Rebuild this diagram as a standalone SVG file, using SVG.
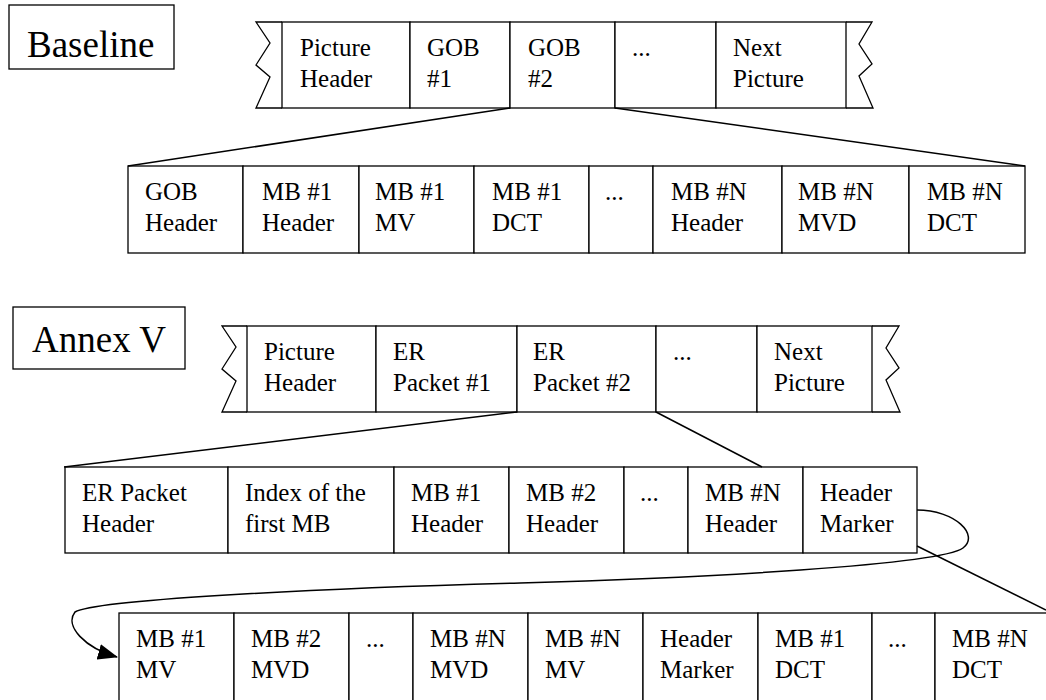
<svg xmlns="http://www.w3.org/2000/svg" width="1046" height="700" viewBox="0 0 1046 700">
<style>
.c{fill:#fff;stroke:#000;stroke-width:1.3}
.z{fill:none;stroke:#000;stroke-width:1.3;stroke-linejoin:miter}
.t{font-family:"Liberation Serif","Times New Roman",serif;font-size:25px;fill:#000}
.big{font-family:"Liberation Serif","Times New Roman",serif;font-size:37px;fill:#000}
.l{fill:none;stroke:#000;stroke-width:1.5}
</style>
<defs>
<marker id="ah" markerWidth="20" markerHeight="16" refX="19" refY="8" orient="auto" markerUnits="userSpaceOnUse">
<path d="M0,0 L20,8 L0,16 Z" fill="#000"/>
</marker>
</defs>
<rect width="1046" height="700" fill="#fff"/>

<g id="label-baseline"><rect class="c" x="9" y="5" width="165" height="64"/><text class="big" x="27" y="57">Baseline</text></g>
<g id="label-annex"><rect class="c" x="13" y="307" width="172" height="62"/><text class="big" x="32" y="352">Annex V</text></g>

<!-- Row 1 -->
<g id="r1-left-end"><path class="z" d="M282,22 L256,22 L270,43 L256,65 L270,77 L256,108 L282,108"/></g>
<g id="r1-picture-header"><rect class="c" x="282" y="22" width="128" height="86"/><text class="t" x="300" y="56">Picture</text><text class="t" x="300" y="87">Header</text></g>
<g id="r1-gob1"><rect class="c" x="410" y="22" width="100" height="86"/><text class="t" x="427" y="56">GOB</text><text class="t" x="427" y="87">#1</text></g>
<g id="r1-gob2"><rect class="c" x="510" y="22" width="105" height="86"/><text class="t" x="528" y="56">GOB</text><text class="t" x="528" y="87">#2</text></g>
<g id="r1-dots"><rect class="c" x="615" y="22" width="101" height="86"/><text class="t" x="632" y="56">...</text></g>
<g id="r1-next-picture"><rect class="c" x="716" y="22" width="130" height="86"/><text class="t" x="733" y="56">Next</text><text class="t" x="733" y="87">Picture</text></g>
<g id="r1-right-end"><path class="z" d="M846,22 L872,22 L859,44 L872,64 L859,76 L873,108 L846,108"/></g>

<!-- Row 2 -->
<g id="r2-gob-header"><rect class="c" x="128" y="166" width="115" height="87"/><text class="t" x="145" y="200">GOB</text><text class="t" x="145" y="231">Header</text></g>
<g id="r2-mb1-header"><rect class="c" x="243" y="166" width="116" height="87"/><text class="t" x="262" y="200">MB #1</text><text class="t" x="262" y="231">Header</text></g>
<g id="r2-mb1-mv"><rect class="c" x="359" y="166" width="115" height="87"/><text class="t" x="375" y="200">MB #1</text><text class="t" x="375" y="231">MV</text></g>
<g id="r2-mb1-dct"><rect class="c" x="474" y="166" width="115" height="87"/><text class="t" x="492" y="200">MB #1</text><text class="t" x="492" y="231">DCT</text></g>
<g id="r2-dots"><rect class="c" x="589" y="166" width="64" height="87"/><text class="t" x="605" y="200">...</text></g>
<g id="r2-mbn-header"><rect class="c" x="653" y="166" width="129" height="87"/><text class="t" x="671" y="200">MB #N</text><text class="t" x="671" y="231">Header</text></g>
<g id="r2-mbn-mvd"><rect class="c" x="782" y="166" width="127" height="87"/><text class="t" x="798" y="200">MB #N</text><text class="t" x="798" y="231">MVD</text></g>
<g id="r2-mbn-dct"><rect class="c" x="909" y="166" width="116" height="87"/><text class="t" x="927" y="200">MB #N</text><text class="t" x="927" y="231">DCT</text></g>

<!-- Row 3 -->
<g id="r3-left-end"><path class="z" d="M247,326 L222,326 L236,347 L222,369 L236,381 L222,412 L247,412"/></g>
<g id="r3-picture-header"><rect class="c" x="247" y="326" width="129" height="86"/><text class="t" x="264" y="360">Picture</text><text class="t" x="264" y="391">Header</text></g>
<g id="r3-er1"><rect class="c" x="376" y="326" width="141" height="86"/><text class="t" x="393" y="360">ER</text><text class="t" x="393" y="391">Packet #1</text></g>
<g id="r3-er2"><rect class="c" x="517" y="326" width="139" height="86"/><text class="t" x="533" y="360">ER</text><text class="t" x="533" y="391">Packet #2</text></g>
<g id="r3-dots"><rect class="c" x="656" y="326" width="101" height="86"/><text class="t" x="673" y="360">...</text></g>
<g id="r3-next-picture"><rect class="c" x="757" y="326" width="115" height="86"/><text class="t" x="774" y="360">Next</text><text class="t" x="774" y="391">Picture</text></g>
<g id="r3-right-end"><path class="z" d="M872,326 L899,326 L886,348 L899,368 L886,380 L900,412 L872,412"/></g>

<!-- Row 4 -->
<g id="r4-er-header"><rect class="c" x="65" y="467" width="163" height="86"/><text class="t" x="82" y="501">ER Packet</text><text class="t" x="82" y="532">Header</text></g>
<g id="r4-index"><rect class="c" x="228" y="467" width="166" height="86"/><text class="t" x="245" y="501">Index of the</text><text class="t" x="245" y="532">first MB</text></g>
<g id="r4-mb1-header"><rect class="c" x="394" y="467" width="115" height="86"/><text class="t" x="411" y="501">MB #1</text><text class="t" x="411" y="532">Header</text></g>
<g id="r4-mb2-header"><rect class="c" x="509" y="467" width="115" height="86"/><text class="t" x="526" y="501">MB #2</text><text class="t" x="526" y="532">Header</text></g>
<g id="r4-dots"><rect class="c" x="624" y="467" width="64" height="86"/><text class="t" x="640" y="501">...</text></g>
<g id="r4-mbn-header"><rect class="c" x="688" y="467" width="115" height="86"/><text class="t" x="705" y="501">MB #N</text><text class="t" x="705" y="532">Header</text></g>
<g id="r4-header-marker"><rect class="c" x="803" y="467" width="114" height="86"/><text class="t" x="820" y="501">Header</text><text class="t" x="820" y="532">Marker</text></g>

<!-- Row 5 -->
<g id="r5-mb1-mv"><rect class="c" x="119" y="613" width="115" height="110"/><text class="t" x="136" y="647">MB #1</text><text class="t" x="136" y="678">MV</text></g>
<g id="r5-mb2-mvd"><rect class="c" x="234" y="613" width="115" height="110"/><text class="t" x="251" y="647">MB #2</text><text class="t" x="251" y="678">MVD</text></g>
<g id="r5-dots1"><rect class="c" x="349" y="613" width="64" height="110"/><text class="t" x="366" y="647">...</text></g>
<g id="r5-mbn-mvd"><rect class="c" x="413" y="613" width="115" height="110"/><text class="t" x="430" y="647">MB #N</text><text class="t" x="430" y="678">MVD</text></g>
<g id="r5-mbn-mv"><rect class="c" x="528" y="613" width="115" height="110"/><text class="t" x="545" y="647">MB #N</text><text class="t" x="545" y="678">MV</text></g>
<g id="r5-header-marker"><rect class="c" x="643" y="613" width="115" height="110"/><text class="t" x="660" y="647">Header</text><text class="t" x="660" y="678">Marker</text></g>
<g id="r5-mb1-dct"><rect class="c" x="758" y="613" width="114" height="110"/><text class="t" x="775" y="647">MB #1</text><text class="t" x="775" y="678">DCT</text></g>
<g id="r5-dots2"><rect class="c" x="872" y="613" width="63" height="110"/><text class="t" x="888" y="647">...</text></g>
<g id="r5-mbn-dct"><rect class="c" x="935" y="613" width="130" height="110"/><text class="t" x="952" y="647">MB #N</text><text class="t" x="952" y="678">DCT</text></g>

<g id="connectors">
<line class="l" x1="510" y1="108" x2="128" y2="166"/>
<line class="l" x1="615" y1="108" x2="1025" y2="166"/>
<line class="l" x1="517" y1="412" x2="64" y2="467"/>
<line class="l" x1="656" y1="412" x2="762" y2="467"/>
<line class="l" x1="917" y1="546" x2="1046" y2="610"/>
<path class="l" d="M917,510 C955,510 980,535 963,548 C940,565 700,578 520,583 C300,589 95,600 75,612 C64,626 85,648 117,657" marker-end="url(#ah)"/>
</g>
</svg>
